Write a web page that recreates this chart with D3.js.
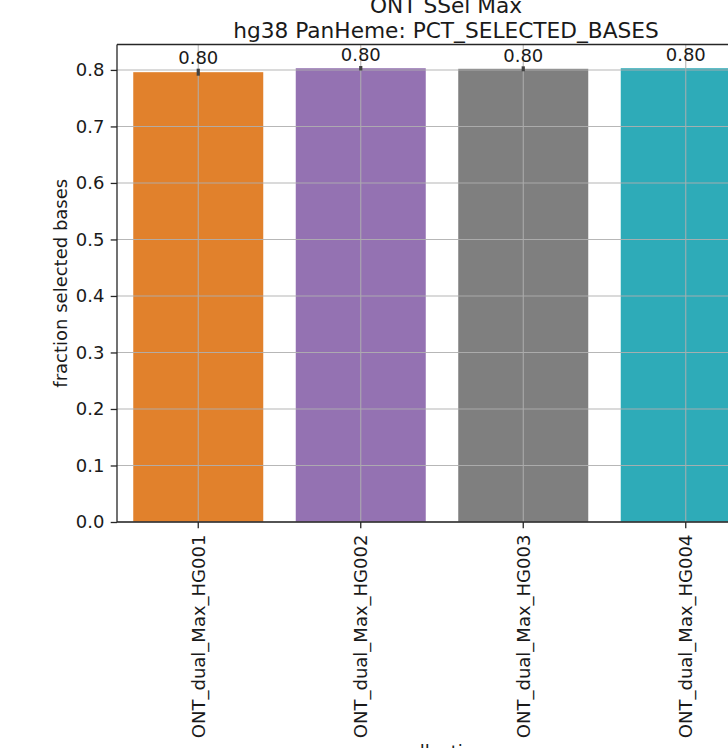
<!DOCTYPE html>
<html>
<head>
<meta charset="utf-8">
<script src="https://cdn.jsdelivr.net/npm/d3@7"></script>
<style>
  html, body { margin: 0; padding: 0; background: #fff; overflow: hidden; }
  svg { display: block; font-family: "DejaVu Sans", sans-serif; }
</style>
</head>
<body>
<svg id="chart" width="728" height="748"></svg>
<script>
// Fraction of selected bases per collection (mean with error half-width)
const collections = ["ONT_dual_Max_HG001", "ONT_dual_Max_HG002", "ONT_dual_Max_HG003", "ONT_dual_Max_HG004"];
const meanValues = [0.796, 0.803, 0.802, 0.803];
const errHalf = [0.0062, 0.004, 0.0044, 0.0];
const barColors = ["#e1812c", "#9472b2", "#7f7f7f", "#2eabb8"];
const yTicks = [0.0, 0.1, 0.2, 0.3, 0.4, 0.5, 0.6, 0.7, 0.8];
const titleLines = ["ONT SSel Max", "hg38 PanHeme: PCT_SELECTED_BASES"];
const yLabel = "fraction selected bases";
const xLabel = "collection";

const svg = d3.select("#chart");
const plot = { left: 117, right: 767, top: 44.5, bottom: 522 };

const x = d3.scaleBand()
  .domain(collections)
  .range([plot.left, plot.right])
  .paddingInner(0.2)
  .paddingOuter(0.1);

const y = d3.scaleLinear()
  .domain([0, 0.845])
  .range([plot.bottom, plot.top]);

const fontSize = 18;
const gridColor = "#b0b0b0";
const axisColor = "#262626";

// Bars
svg.append("g").selectAll("rect")
  .data(collections)
  .join("rect")
  .attr("x", d => x(d))
  .attr("width", x.bandwidth())
  .attr("y", (d, i) => y(meanValues[i]))
  .attr("height", (d, i) => y(0) - y(meanValues[i]))
  .attr("fill", (d, i) => barColors[i]);

// Grid lines drawn above the bars
const grid = svg.append("g").attr("stroke", gridColor).attr("stroke-width", 1.1).attr("opacity", 0.9);
grid.selectAll("line.h")
  .data(yTicks)
  .join("line")
  .attr("class", "h")
  .attr("x1", plot.left).attr("x2", plot.right)
  .attr("y1", d => y(d)).attr("y2", d => y(d));
grid.selectAll("line.v")
  .data(collections)
  .join("line")
  .attr("class", "v")
  .attr("x1", d => x(d) + x.bandwidth() / 2).attr("x2", d => x(d) + x.bandwidth() / 2)
  .attr("y1", plot.top).attr("y2", plot.bottom);

// Error bars
svg.append("g").selectAll("line")
  .data(collections)
  .join("line")
  .attr("x1", d => x(d) + x.bandwidth() / 2)
  .attr("x2", d => x(d) + x.bandwidth() / 2)
  .attr("y1", (d, i) => y(meanValues[i] - errHalf[i]))
  .attr("y2", (d, i) => y(meanValues[i] + errHalf[i]))
  .attr("stroke", "#424242")
  .attr("stroke-width", 3.2);

// Value labels
svg.append("g").selectAll("text")
  .data(collections)
  .join("text")
  .attr("x", d => x(d) + x.bandwidth() / 2)
  .attr("y", (d, i) => y(meanValues[i] + Math.max(errHalf[i], 0.004)) - 4.7)
  .attr("text-anchor", "middle")
  .attr("font-size", fontSize)
  .attr("fill", "#1a1a1a")
  .text((d, i) => d3.format(".2f")(meanValues[i]));

// Y axis
const yAxis = d3.axisLeft(y).tickValues(yTicks).tickFormat(d3.format(".1f")).tickSize(6.3).tickPadding(6.3);
const yg = svg.append("g").attr("transform", `translate(${plot.left},0)`).call(yAxis);
yg.select(".domain").remove();
yg.selectAll(".tick line").attr("stroke", axisColor).attr("stroke-width", 1.3);
yg.selectAll(".tick text").attr("font-size", fontSize).attr("fill", "#1a1a1a")
  .attr("font-family", "DejaVu Sans");

// X axis
const xAxis = d3.axisBottom(x).tickSize(6.3).tickPadding(6.3);
const xg = svg.append("g").attr("transform", `translate(0,${plot.bottom})`).call(xAxis);
xg.select(".domain").remove();
xg.selectAll(".tick line").attr("stroke", axisColor).attr("stroke-width", 1.3);
xg.selectAll(".tick text")
  .attr("font-size", fontSize).attr("fill", "#1a1a1a")
  .attr("font-family", "DejaVu Sans")
  .attr("text-anchor", "end")
  .attr("transform", "rotate(-90)")
  .attr("x", -12.6)
  .attr("y", 0)
  .attr("dy", "0.36em");

// Spines
const spines = svg.append("g").attr("stroke", axisColor).attr("stroke-width", 1.3).attr("fill", "none");
spines.append("line").attr("x1", plot.left).attr("x2", plot.left).attr("y1", plot.top).attr("y2", plot.bottom);
spines.append("line").attr("x1", plot.left).attr("x2", plot.right).attr("y1", plot.bottom).attr("y2", plot.bottom);
spines.append("line").attr("x1", plot.left).attr("x2", plot.right).attr("y1", plot.top).attr("y2", plot.top);
spines.append("line").attr("x1", plot.right).attr("x2", plot.right).attr("y1", plot.top).attr("y2", plot.bottom);

// Titles
const titleX = 446;
svg.append("g").selectAll("text")
  .data(titleLines)
  .join("text")
  .attr("x", titleX)
  .attr("y", (d, i) => 12.5 + i * 25.5)
  .attr("text-anchor", "middle")
  .attr("font-size", 21.7)
  .attr("fill", "#1a1a1a")
  .text(d => d);

// Axis labels
svg.append("text")
  .attr("transform", `translate(67,${(plot.top + plot.bottom) / 2}) rotate(-90)`)
  .attr("text-anchor", "middle")
  .attr("font-size", fontSize)
  .attr("fill", "#1a1a1a")
  .text(yLabel);

svg.append("text")
  .attr("x", (plot.left + plot.right) / 2)
  .attr("y", 758)
  .attr("text-anchor", "middle")
  .attr("font-size", fontSize)
  .attr("fill", "#1a1a1a")
  .text(xLabel);
</script>
</body>
</html>
